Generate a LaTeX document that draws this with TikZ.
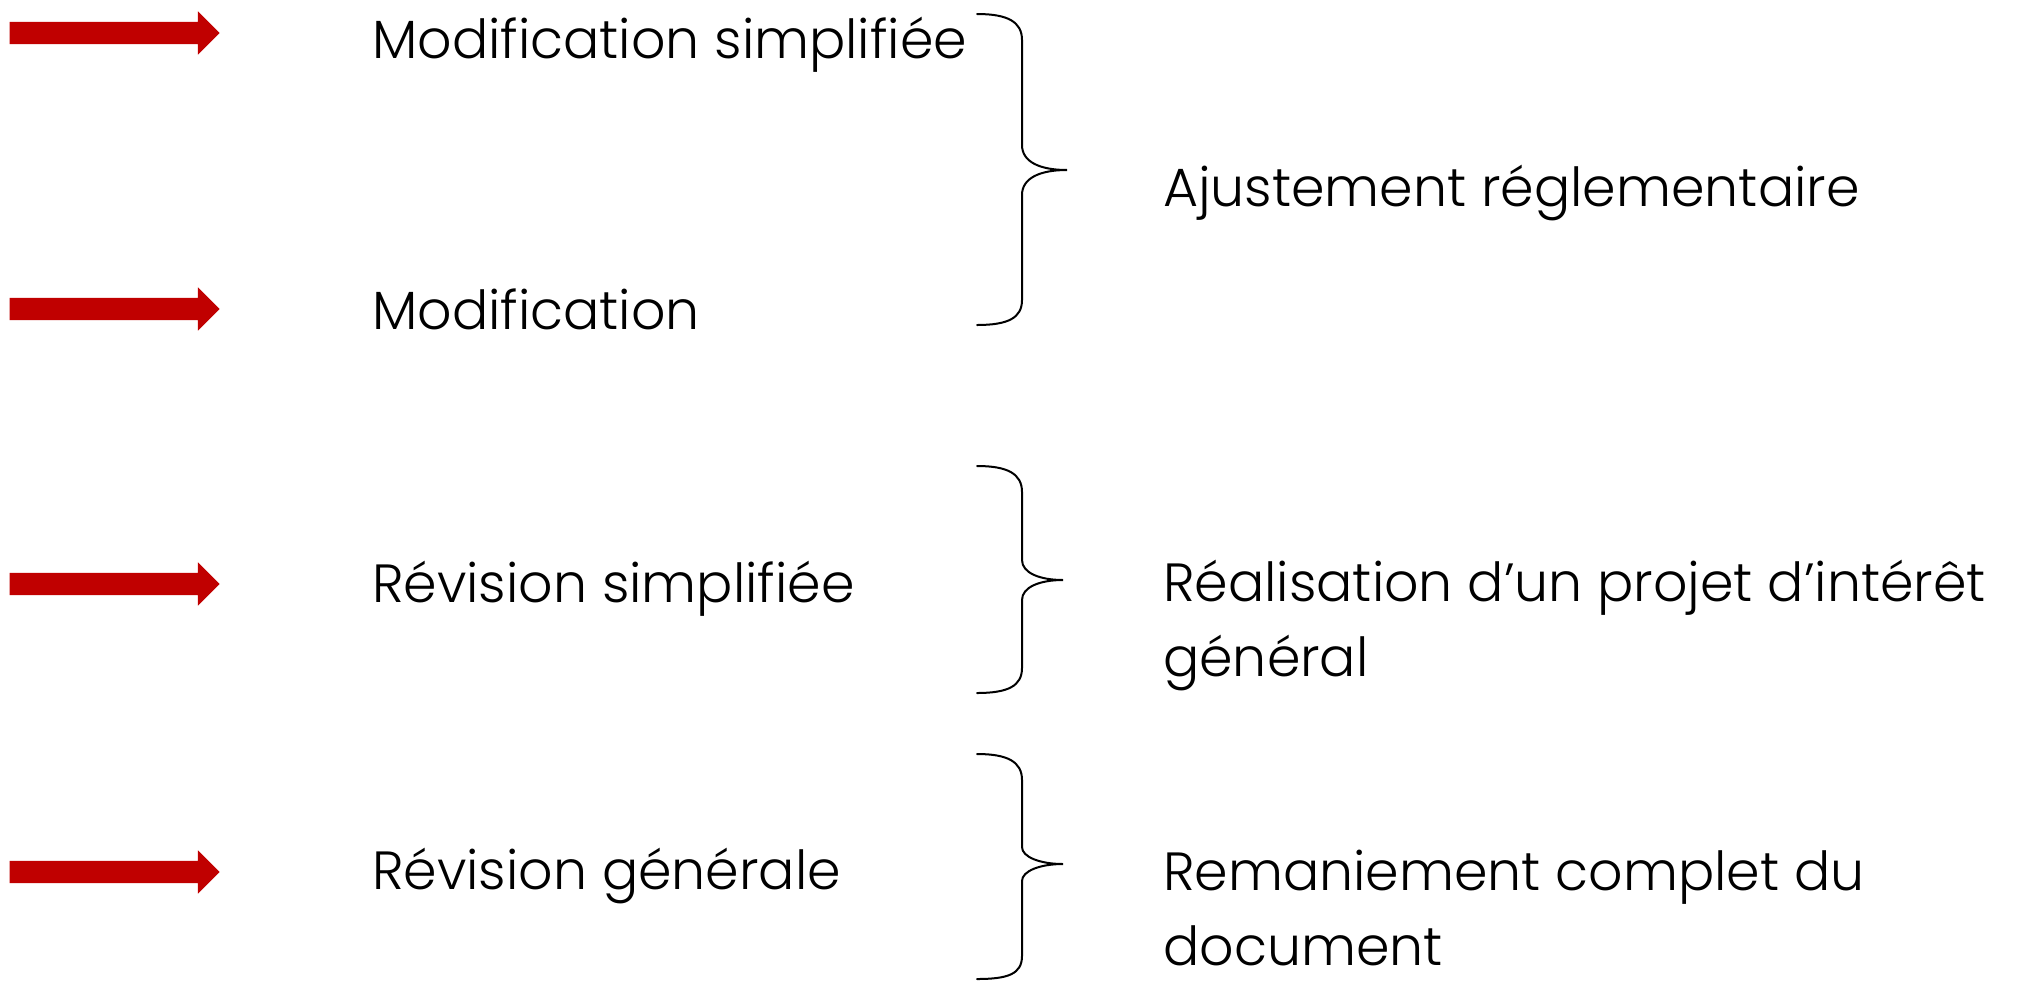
\documentclass[tikz,border=0pt]{standalone}
\usepackage{fontspec}
\setmainfont{Poppins}[UprightFont=* Light]
\usetikzlibrary{shapes.arrows}
\definecolor{arrred}{RGB}{192,0,0}
\tikzset{
  redarrow/.style={single arrow, fill=arrred, draw=none, inner xsep=0pt, inner ysep=11pt,
    minimum height=210pt, single arrow head extend=10.5pt},
  lbl/.style={anchor=base west, inner sep=0pt, font=\fontsize{53.8}{75}\selectfont, align=left},
  brace/.style={draw=black, line width=2pt, line cap=round}
}
\begin{document}
\begin{tikzpicture}[x=1pt,y=-1pt]
\useasboundingbox (0,0) rectangle (2020,980);
% arrows
\node[redarrow] (a1) at (109,33) {};
\node[redarrow] (a2) at (109,309) {};
\node[redarrow] (a3) at (109,584) {};
\node[redarrow] (a4) at (109,872) {};
% left labels
\node[lbl] (t1) at (372,58) {Modification simplifiée};
\node[lbl] (t2) at (372,329) {Modification};
\node[lbl] (t3) at (372,602) {Révision simplifiée};
\node[lbl] (t4) at (372,889) {Révision générale};
% right labels
\node[lbl] (r1) at (1163,206) {Ajustement réglementaire};
\node[lbl] (r2) at (1163,676) {Réalisation d’un projet d’intérêt\\général};
\node[lbl] (r3) at (1163,965) {Remaniement complet du\\document};
% braces
\draw[brace] (977,14) .. controls (1008,14) and (1022,22) .. (1022,40)
  -- (1022,145) .. controls (1022,162) and (1040,170) .. (1067,170)
  .. controls (1040,170) and (1022,178) .. (1022,195)
  -- (1022,300) .. controls (1022,318) and (1008,325) .. (977,325);
\draw[brace] (977,466) .. controls (1008,466) and (1022,474) .. (1022,492)
  -- (1022,560) .. controls (1022,573) and (1040,580) .. (1063,580)
  .. controls (1040,580) and (1022,587) .. (1022,600)
  -- (1022,668) .. controls (1022,686) and (1008,693) .. (977,693);
\draw[brace] (977,754) .. controls (1008,754) and (1022,762) .. (1022,780)
  -- (1022,847) .. controls (1022,857) and (1040,864) .. (1063,864)
  .. controls (1040,864) and (1022,871) .. (1022,881)
  -- (1022,956) .. controls (1022,974) and (1008,979) .. (977,979);
\end{tikzpicture}
\end{document}
